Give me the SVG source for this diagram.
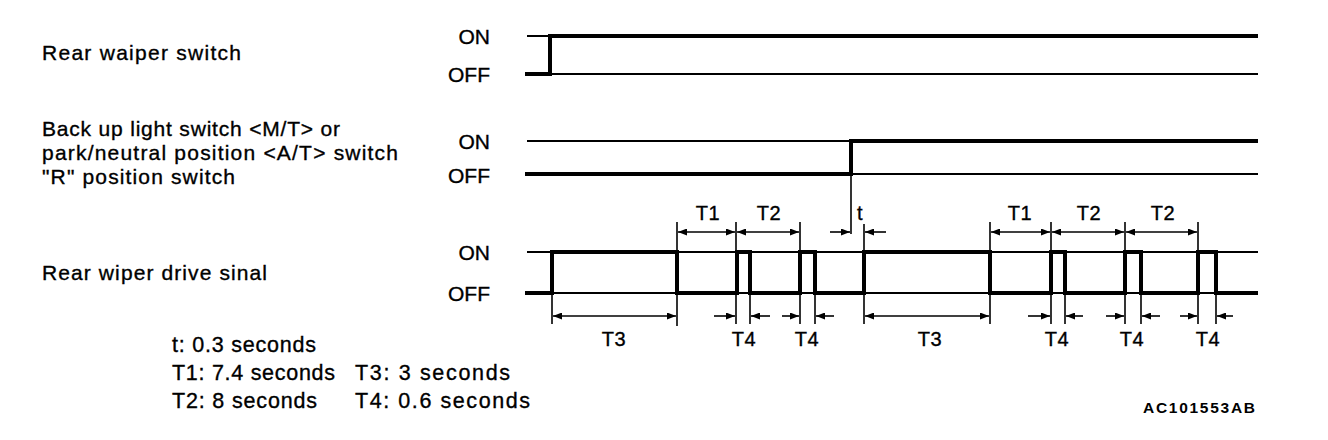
<svg xmlns="http://www.w3.org/2000/svg" width="1328" height="440" viewBox="0 0 1328 440">
<defs>
<style>
text{font-family:"Liberation Sans",Arial,sans-serif;fill:#000;stroke:#000;stroke-width:0.35}
.lbl{font-size:21px}
.lvl{font-size:21px;text-anchor:end}
.dim{font-size:20px;text-anchor:middle;letter-spacing:0.5px}
.leg{font-size:21.5px}
.code{font-size:15.5px;font-weight:bold;stroke-width:0}
.thin{stroke:#000;stroke-width:2;fill:none}
.thick{stroke:#000;stroke-width:4;fill:none;stroke-linejoin:miter;stroke-linecap:square}
.ext{stroke:#000;stroke-width:1.6;fill:none}
.arr{stroke:#000;stroke-width:1.6;fill:none;marker-end:url(#ah)}
.arr2{stroke:#000;stroke-width:1.6;fill:none;marker-end:url(#ah);marker-start:url(#ahs)}
</style>
<marker id="ah" markerUnits="userSpaceOnUse" markerWidth="9" markerHeight="7" refX="9" refY="3.5" orient="auto"><path d="M0,0 L9,3.5 L0,7 z" fill="#000"/></marker>
<marker id="ahs" markerUnits="userSpaceOnUse" markerWidth="9" markerHeight="7" refX="9" refY="3.5" orient="auto-start-reverse"><path d="M0,0 L9,3.5 L0,7 z" fill="#000"/></marker>
</defs>
<rect width="1328" height="440" fill="#fff"/>

<g id="rear-wiper-switch">
<text class="lbl" x="42" y="60" textLength="199" lengthAdjust="spacing">Rear waiper switch</text>
<text class="lvl" x="490" y="44">ON</text>
<text class="lvl" x="490" y="82">OFF</text>
<line class="thin" x1="527" y1="36" x2="1258" y2="36"/>
<line class="thin" x1="527" y1="74" x2="1258" y2="74"/>
<path class="thick" d="M527,74 H550 V36 H1256"/>
</g>

<g id="reverse-switch">
<text class="lbl" x="42" y="136" textLength="298" lengthAdjust="spacing">Back up light switch &lt;M/T&gt; or</text>
<text class="lbl" x="42" y="160" textLength="356" lengthAdjust="spacing">park/neutral position &lt;A/T&gt; switch</text>
<text class="lbl" x="42" y="184" textLength="193" lengthAdjust="spacing">"R" position switch</text>
<text class="lvl" x="490" y="149">ON</text>
<text class="lvl" x="490" y="183">OFF</text>
<line class="thin" x1="527" y1="141" x2="1258" y2="141"/>
<line class="thin" x1="527" y1="174" x2="1258" y2="174"/>
<path class="thick" d="M527,174 H851 V141 H1256"/>
</g>

<g id="drive-signal">
<text class="lbl" x="42" y="280" textLength="225" lengthAdjust="spacing">Rear wiper drive sinal</text>
<text class="lvl" x="490" y="260">ON</text>
<text class="lvl" x="490" y="301">OFF</text>
<line class="thin" x1="527" y1="252" x2="1258" y2="252"/>
<line class="thin" x1="527" y1="293" x2="1258" y2="293"/>
<path class="thick" d="M527,293 H552 V252 H677 V293 H737 V252 H750 V293 H800 V252 H815 V293 H864 V252 H990 V293 H1051 V252 H1065 V293 H1125 V252 H1141 V293 H1198 V252 H1216 V293 H1256"/>
</g>

<g id="connectors">
<line class="ext" x1="851" y1="174" x2="851" y2="234"/>
<line class="ext" x1="864" y1="224" x2="864" y2="324"/>
<line class="ext" x1="677" y1="222" x2="677" y2="326"/>
<line class="ext" x1="736" y1="222" x2="736" y2="324"/>
<line class="ext" x1="750" y1="293" x2="750" y2="324"/>
<line class="ext" x1="800" y1="222" x2="800" y2="324"/>
<line class="ext" x1="815" y1="293" x2="815" y2="324"/>
<line class="ext" x1="552" y1="293" x2="552" y2="324"/>
<line class="ext" x1="990" y1="222" x2="990" y2="324"/>
<line class="ext" x1="1051" y1="222" x2="1051" y2="324"/>
<line class="ext" x1="1065" y1="293" x2="1065" y2="324"/>
<line class="ext" x1="1125" y1="222" x2="1125" y2="324"/>
<line class="ext" x1="1141" y1="293" x2="1141" y2="324"/>
<line class="ext" x1="1198" y1="222" x2="1198" y2="324"/>
<line class="ext" x1="1216" y1="293" x2="1216" y2="324"/>
<line class="arr2" x1="678" y1="232" x2="735" y2="232"/>
<line class="arr2" x1="737" y1="232" x2="799" y2="232"/>
<line class="arr" x1="830" y1="232" x2="850" y2="232"/>
<line class="arr" x1="886" y1="232" x2="865" y2="232"/>
<line class="arr2" x1="991" y1="232" x2="1050" y2="232"/>
<line class="arr2" x1="1052" y1="232" x2="1124" y2="232"/>
<line class="arr2" x1="1126" y1="232" x2="1197" y2="232"/>
<line class="arr2" x1="553" y1="316" x2="676" y2="316"/>
<line class="arr2" x1="865" y1="316" x2="989" y2="316"/>
<line class="arr" x1="714" y1="316" x2="735" y2="316"/>
<line class="arr" x1="770" y1="316" x2="751" y2="316"/>
<line class="arr" x1="782" y1="316" x2="799" y2="316"/>
<line class="arr" x1="834" y1="316" x2="816" y2="316"/>
<line class="arr" x1="1028" y1="316" x2="1050" y2="316"/>
<line class="arr" x1="1083" y1="316" x2="1066" y2="316"/>
<line class="arr" x1="1106" y1="316" x2="1124" y2="316"/>
<line class="arr" x1="1160" y1="316" x2="1142" y2="316"/>
<line class="arr" x1="1180" y1="316" x2="1197" y2="316"/>
<line class="arr" x1="1233" y1="316" x2="1217" y2="316"/>
</g>

<g id="dim-labels">
<text class="dim" x="708" y="220">T1</text>
<text class="dim" x="769" y="220">T2</text>
<text class="dim" x="860" y="220">t</text>
<text class="dim" x="1020" y="220">T1</text>
<text class="dim" x="1089" y="220">T2</text>
<text class="dim" x="1163" y="220">T2</text>
<text class="dim" x="614" y="346">T3</text>
<text class="dim" x="744" y="346">T4</text>
<text class="dim" x="807" y="346">T4</text>
<text class="dim" x="930" y="346">T3</text>
<text class="dim" x="1057" y="346">T4</text>
<text class="dim" x="1132" y="346">T4</text>
<text class="dim" x="1208" y="346">T4</text>
</g>

<g id="legend">
<text class="leg" x="172" y="352" textLength="144" lengthAdjust="spacing">t: 0.3 seconds</text>
<text class="leg" x="172" y="380" textLength="163" lengthAdjust="spacing">T1: 7.4 seconds</text>
<text class="leg" x="172" y="408" textLength="145" lengthAdjust="spacing">T2: 8 seconds</text>
<text class="leg" x="355" y="380" textLength="155" lengthAdjust="spacing">T3: 3 seconds</text>
<text class="leg" x="355" y="408" textLength="175" lengthAdjust="spacing">T4: 0.6 seconds</text>
</g>

<text class="code" x="1143" y="413" textLength="112" lengthAdjust="spacing">AC101553AB</text>
</svg>
